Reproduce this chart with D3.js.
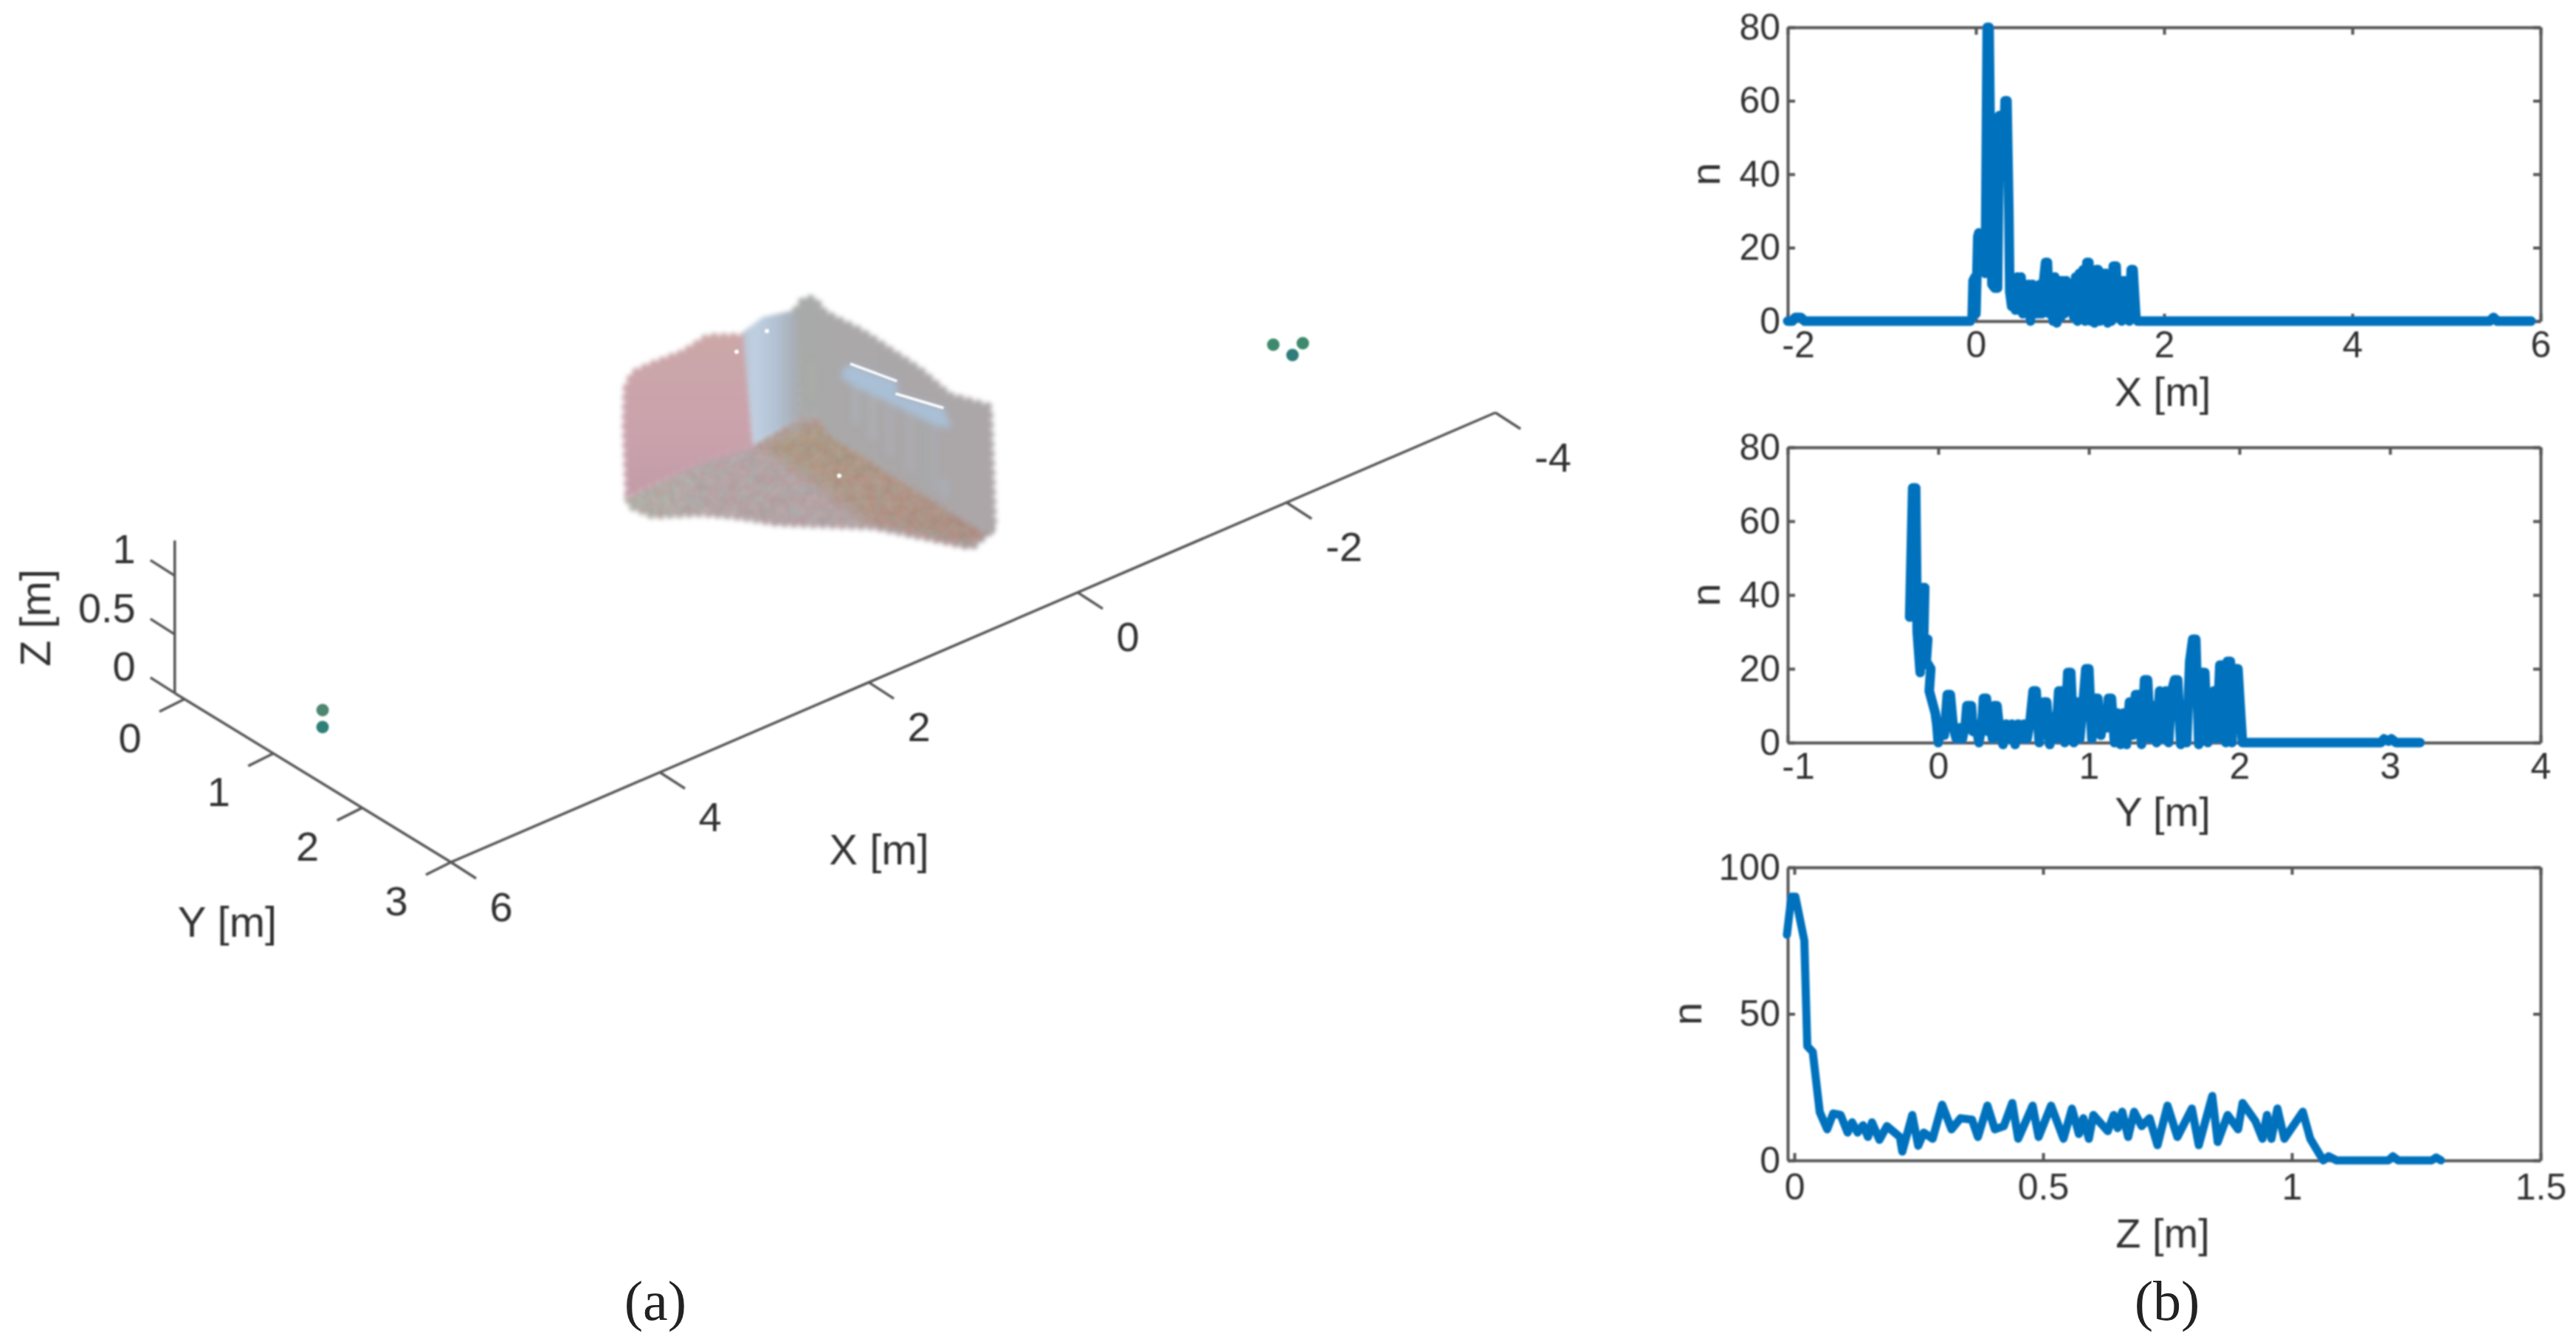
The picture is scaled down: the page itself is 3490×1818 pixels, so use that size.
<!DOCTYPE html>
<html>
<head>
<meta charset="utf-8">
<script src="https://cdnjs.cloudflare.com/ajax/libs/d3/7.8.5/d3.min.js"></script>
<style>
    html, body { margin: 0; padding: 0; background: #fff; }
    text { font-family: "Liberation Sans", Arial, sans-serif; fill: #333; }
    .caption { font-family: "Liberation Serif", serif; fill: #222; }
</style>
</head>
<body>
<svg id="chart" width="3490" height="1818"></svg>
<script>
// histogram of points along X, [metres, count]
const histX = [[-2,0],[-1.95,0],[-1.92,1],[-1.86,1],[-1.82,0],[-0.06,0],[-0.04,1],[-0.03,11],[-0.01,12],[0,2],
    [0.02,23],[0.03,24],[0.05,15],[0.08,15],[0.1,13],[0.12,80],[0.14,80],[0.17,10],[0.2,9],[0.23,9],[0.25,56],[0.27,56],
    [0.29,40],[0.31,60],[0.33,60],[0.35,30],[0.36,8],[0.38,4],[0.4,11],[0.42,3],[0.44,12],[0.46,3],[0.48,12],[0.5,2],
    [0.52,10],[0.54,4],[0.56,10],[0.58,0],[0.6,10],[0.62,2],[0.64,9],[0.66,2],[0.68,10],[0.7,2],[0.72,11],[0.74,16],
    [0.76,16],[0.78,2],[0.8,12],[0.82,0],[0.84,12],[0.86,-0.5],[0.88,11],[0.9,1],[0.92,11],[0.94,2],[0.96,11],[0.98,3],
    [1,8],[1.02,9],[1.04,1],[1.06,12],[1.08,0],[1.1,13],[1.12,1],[1.14,14],[1.16,0],[1.18,16],[1.2,16],[1.22,0],
    [1.24,12],[1.26,-0.5],[1.28,14],[1.3,14],[1.32,0],[1.34,13],[1.36,1],[1.38,13],[1.4,-0.5],[1.42,11],[1.44,0],
    [1.46,15],[1.49,15],[1.51,1],[1.53,11],[1.55,0],[1.57,11],[1.59,1],[1.61,11],[1.63,0],[1.65,14],[1.67,14],[1.7,1],
    [1.72,0],[5.46,0],[5.5,1],[5.54,0],[5.9,0]];

// histogram of points along Y
const histY = [[-0.19,34],[-0.17,69],[-0.15,69],[-0.14,30],[-0.12,19],[-0.12,40],[-0.1,42],[-0.09,42],[-0.1,22],
    [-0.07,28],[-0.08,22],[-0.05,20],[-0.06,14],[-0.02,8],[-0.01,5],[0,0],[0.02,5],[0.04,2],[0.06,13],[0.08,13],[0.1,4],
    [0.12,1],[0.14,4],[0.16,1],[0.18,5],[0.19,10],[0.22,10],[0.23,3],[0.25,5],[0.27,0],[0.29,5],[0.3,12],[0.32,12],[0.33,3],
    [0.35,5],[0.36,1],[0.37,10],[0.39,10],[0.41,2],[0.43,-0.5],[0.45,5],[0.47,1],[0.49,5],[0.51,-0.5],[0.53,5],[0.55,1],
    [0.57,5],[0.59,1],[0.61,6],[0.63,14],[0.65,14],[0.67,0],[0.69,7],[0.7,11],[0.72,11],[0.74,-0.5],[0.76,7],[0.78,1],
    [0.8,14],[0.82,14],[0.84,0],[0.86,19],[0.88,19],[0.9,0],[0.92,11],[0.94,1],[0.96,10],[0.98,20],[1,20],[1.02,1],
    [1.04,12],[1.06,12],[1.08,2],[1.1,8],[1.12,4],[1.13,12],[1.15,12],[1.17,0],[1.19,8],[1.21,-0.5],[1.23,8],[1.25,-0.5],
    [1.27,11],[1.29,2],[1.31,13],[1.33,13],[1.35,-0.5],[1.37,17],[1.39,17],[1.41,1],[1.43,10],[1.45,0],[1.47,14],[1.49,1],
    [1.51,14],[1.53,0],[1.55,14],[1.57,17],[1.59,17],[1.61,-0.5],[1.63,10],[1.65,0],[1.67,22],[1.69,28],[1.71,28],
    [1.73,-0.5],[1.75,19],[1.77,19],[1.79,0],[1.81,13],[1.83,14],[1.85,1],[1.87,21],[1.89,21],[1.91,0],[1.92,22],[1.94,22],
    [1.95,0],[1.97,20],[1.99,20],[2.02,0],[2.94,0],[2.96,1],[2.99,0.4],[3.01,1],[3.04,0],[3.2,0]];

// histogram of points along Z
const histZ = [[-0.015,77],[-0.006,90],[0.002,90],[0.02,75],[0.026,39],[0.037,37],[0.051,16.5],[0.066,10.6],[0.078,16],
    [0.093,15.5],[0.107,9.5],[0.116,13],[0.127,9.5],[0.138,12],[0.148,8],[0.156,13],[0.171,7],[0.186,11.7],[0.212,8],
    [0.217,3],[0.237,15.5],[0.249,5],[0.26,9.5],[0.278,7.4],[0.297,19],[0.316,10.6],[0.334,14.4],[0.357,13.9],[0.369,8],
    [0.388,18.7],[0.403,10.6],[0.421,11.7],[0.438,19.6],[0.45,7.4],[0.479,18.7],[0.491,8],[0.516,18.7],[0.541,7.4],
    [0.558,17.7],[0.572,9],[0.581,14.4],[0.592,7.4],[0.601,15.5],[0.63,10],[0.642,15.5],[0.65,11],[0.659,16.6],[0.671,8],
    [0.683,16.6],[0.698,11.7],[0.714,14.4],[0.73,5.2],[0.75,18.7],[0.77,8],[0.799,17.7],[0.813,5.2],[0.84,22],[0.851,6.3],
    [0.871,15.5],[0.892,10.6],[0.901,19.6],[0.927,13.3],[0.941,7.4],[0.95,15.5],[0.959,7.4],[0.971,17.7],[0.985,7.4],
    [1.022,16.6],[1.037,7.4],[1.063,0],[1.074,1.4],[1.09,0],[1.194,0],[1.203,1.4],[1.214,0],[1.281,0],[1.29,1],[1.3,0]];

const xTicksX = [-2, 0, 2, 4, 6];
const xTicksY = [-1, 0, 1, 2, 3, 4];
const xTicksZ = [0, 0.5, 1, 1.5];
const nTicks80 = [0, 20, 40, 60, 80];
const nTicks100 = [0, 50, 100];

// 3D axes ticks, metres
const ticks3dX = [6, 4, 2, 0, -2, -4];
const ticks3dY = [0, 1, 2, 3];
const ticks3dZ = [0, 0.5, 1];

// reference markers in the scene, [x, y, z, colour]
const markers = [[5.325,0.761,0,'#4f8670'],[5.481,0.944,0,'#2f8078'],[-3.375,1.234,0,'#3c8a6e'],
    [-3.555,1.355,0,'#3d8a6e'],[-3.388,1.435,0,'#2e7d7a']];

// room point cloud, outlines in metres [x, y, z]
const leftWall = [[0.652,0,1.037],[0.99,0,1.164],[1.22,0,1.12],[1.53,0,1.133],[1.707,0,1.128],[1.767,0,1.024],
    [1.775,0,0.713],[1.748,0,0.116],[1.032,0,0.137],[0.572,0,0.087]];
const blueStrip = [[0.652,0,1.08],[0.464,0,1.134],[0.139,0,1.072],[0.112,0,0.139],[0.558,0,0.08]];
const rightWall = [[0,-0.163,0.943],[0,-0.084,1.064],[0,0.027,1.125],[0,0.155,1.059],[0,0.569,1.094],[0,0.823,1.086],
    [0,1.236,1.068],[0,1.554,1.005],[0,2,1.118],[0,2.048,0.102],[0,1.953,0.048],[0,0.219,0.072],[0,0.107,0.177],[0,-0.116,0.074]];
const floorAll = [[-0.08,-0.209,0],[-0.191,-0.117,0],[-0.102,1.912,0],[0.172,2.011,0],[0.542,1.333,0],[1.048,0.847,0],
    [1.199,0.61,0],[1.372,0.4,0],[1.68,0.19,0],[1.717,-0.021,0],[1.657,-0.107,0],[0.886,-0.172,0],[0.472,-0.101,0]];
const floorTan = [[-0.135,-0.051,0],[-0.102,1.912,0],[0.172,2.011,0],[0.542,1.333,0],[0.454,0.592,0],[0.432,-0.068,0]];
const windowBlue = [[0,0.346,0.665],[0,0.44,0.762],[0,0.966,0.858],[0,0.966,0.744],[0,1.491,0.872],[0,1.587,0.748],
    [0,1.396,0.68],[0,0.95,0.642],[0,0.537,0.597],[0,0.346,0.593]];
const glintA = [[0,0.44,0.762],[0,0.966,0.858]];
const glintB = [[0,0.95,0.744],[0,1.491,0.872]];
const specks = [[0.424,0,1],[0.714,0,0.934],[0.269,0.632,0]];
// pale vertical bands on the right wall, [y, z top, z bottom, colour]
const streaks = [[0.505,0.62,0.3,'#b0bcc8'],[0.695,0.66,0.25,'#b4bcc6'],[0.887,0.68,0.2,'#b0b8c2'],[1.11,0.72,0.18,'#aeb8c0'],
    [1.268,0.7,0.12,'#9fb0a8'],[1.38,0.66,0.15,'#a8b4bc'],[1.5,0.25,0.14,'#aabdd2'],[0.02,0.55,0.3,'#a8b4a2']];

const svg = d3.select('#chart');
const fontTick = 50;
const fontLabel = 56;

// screen position of a point in the 3D view
const xToPx = d3.scaleLinear().domain([6, -4]).range([611, 2026]);
const xToPy = d3.scaleLinear().domain([6, -4]).range([1168, 559]);
const yToDx = d3.scaleLinear().domain([0, 3]).range([-361, 0]);
const yToDy = d3.scaleLinear().domain([0, 3]).range([-221, 0]);
const zToDy = d3.scaleLinear().domain([0, 1]).range([0, -159]);
const project = d => [xToPx(d[0]) + yToDx(d[1]), xToPy(d[0]) + yToDy(d[1]) + zToDy(d[2])];

const defs = svg.append('defs');
const addBlur = (id, amount) => defs.append('filter').attr('id', id)
    .attr('x', '-20%').attr('y', '-20%').attr('width', '140%').attr('height', '140%')
    .append('feGaussianBlur').attr('stdDeviation', amount);
addBlur('soft', 3);
addBlur('soft2', 0.9);
addBlur('soft3', 9);
addBlur('soft4', 5);

// grainy look of the floor points
const grain = defs.append('filter').attr('id', 'grain').attr('color-interpolation-filters', 'sRGB');
grain.append('feGaussianBlur').attr('in', 'SourceGraphic').attr('stdDeviation', 3).attr('result', 'b');
grain.append('feTurbulence').attr('type', 'fractalNoise').attr('baseFrequency', 0.07)
    .attr('numOctaves', 2).attr('seed', 4).attr('result', 'n');
grain.append('feColorMatrix').attr('in', 'n').attr('type', 'matrix')
    .attr('values', '0.7 0 0 0 0.32  0 0.7 0 0 0.27  0 0.7 0 0 0.27  0 0 0 0 0.12').attr('result', 'c');
grain.append('feComposite').attr('in', 'c').attr('in2', 'b').attr('operator', 'in').attr('result', 'cc');
const grainMerge = grain.append('feMerge');
grainMerge.append('feMergeNode').attr('in', 'b');
grainMerge.append('feMergeNode').attr('in', 'cc');

const addGradient = (id, x2, y2, stops) => {
    const g = defs.append('linearGradient').attr('id', id)
        .attr('x1', 0).attr('y1', 0).attr('x2', x2).attr('y2', y2);
    stops.forEach(s => g.append('stop').attr('offset', s[0]).attr('stop-color', s[1]));
};
addGradient('gradLeft', 0, 1, [[0, '#cba7a8'], [0.6, '#c9a2ac'], [1, '#c29ca8']]);
addGradient('gradBlue', 1, 0, [[0, '#b9c4d4'], [0.2, '#c0d0e2'], [0.55, '#b3c3d5'], [0.85, '#aab2bc'], [1, '#a8a9ab']]);
addGradient('gradRight', 1, 0, [[0, '#a8aaa9'], [0.3, '#aaa8a9'], [1, '#aca6a9']]);
addGradient('gradFloor', 1, 0, [[0, '#b2b2a8'], [0.25, '#b5a6a8'], [0.7, '#b3a3a6'], [1, '#ac9a9c']]);
addGradient('gradTan', 1, 1, [[0, '#ac9a80'], [0.6, '#b09585'], [1, '#aa8c80']]);

const polyLine = d3.line().x(d => project(d)[0]).y(d => project(d)[1]);
defs.append('clipPath').attr('id', 'floorClip').append('path').attr('d', polyLine(floorAll) + 'Z');

// facets get a round dotted stroke of their own colour, so the edge looks like a cloud of points
const addFacet = (parent, points, fill) => parent.append('path')
    .attr('d', polyLine(points) + 'Z')
    .attr('fill', fill).attr('stroke', fill)
    .attr('stroke-width', 12).attr('stroke-linecap', 'round').attr('stroke-dasharray', '0 13');

function drawScene() {
    const floor = svg.append('g').attr('filter', 'url(#grain)');
    addFacet(floor, floorAll, 'url(#gradFloor)');
    const tan = floor.append('g').attr('clip-path', 'url(#floorClip)');
    tan.append('path').attr('d', polyLine(floorTan) + 'Z')
        .attr('fill', 'url(#gradTan)').attr('filter', 'url(#soft3)');

    const cloud = svg.append('g').attr('filter', 'url(#soft)');
    addFacet(cloud, rightWall, 'url(#gradRight)');
    addFacet(cloud, leftWall, 'url(#gradLeft)');
    cloud.append('path').attr('d', polyLine(blueStrip) + 'Z').attr('fill', 'url(#gradBlue)');

    const streakG = svg.append('g').attr('filter', 'url(#soft4)');
    streakG.selectAll('line').data(streaks).enter().append('line')
        .attr('x1', d => project([0, d[0], d[1]])[0]).attr('y1', d => project([0, d[0], d[1]])[1])
        .attr('x2', d => project([0, d[0], d[2]])[0]).attr('y2', d => project([0, d[0], d[2]])[1])
        .attr('stroke', d => d[3]).attr('stroke-width', 10).attr('stroke-linecap', 'round').attr('opacity', 0.35);
    streakG.append('path').attr('d', polyLine(windowBlue) + 'Z').attr('fill', '#a9c2da').attr('opacity', 0.9);

    const top = svg.append('g').attr('filter', 'url(#soft2)');
    top.selectAll('.glint').data([glintA, glintB]).enter().append('path')
        .attr('d', polyLine).attr('fill', 'none').attr('stroke', '#fff').attr('stroke-width', 3.5);
    top.selectAll('.speck').data(specks).enter().append('circle')
        .attr('cx', d => project(d)[0]).attr('cy', d => project(d)[1]).attr('r', 3).attr('fill', '#fff');
    top.selectAll('.marker').data(markers).enter().append('circle')
        .attr('cx', d => project(d)[0]).attr('cy', d => project(d)[1]).attr('r', 8.5).attr('fill', d => d[3]);
}

function drawAxes3d() {
    const g = svg.append('g').attr('filter', 'url(#soft2)');
    const line = (a, b) => g.append('line')
        .attr('x1', a[0]).attr('y1', a[1]).attr('x2', b[0]).attr('y2', b[1])
        .attr('stroke', '#555').attr('stroke-width', 3.5);
    const label = (p, txt, size, anchor) => g.append('text')
        .attr('x', p[0]).attr('y', p[1]).attr('dy', '.35em')
        .attr('text-anchor', anchor || 'middle').attr('font-size', size).text(txt);

    line(project([6, 3, 0]), project([-4, 3, 0]));
    line(project([6, -0.11, 0]), project([6, 3, 0]));
    line(project([6, -0.11, 0]), project([6, -0.11, 1.3]));

    ticks3dX.forEach(v => {
        const p = project([v, 3, 0]);
        line(p, [p[0] + 34, p[1] + 22]);
        label([p[0] + 68 + (v < 0 ? 10 : 0), p[1] + 60], v, fontLabel);
    });
    ticks3dY.forEach(v => {
        const p = project([6, v, 0]);
        line(p, [p[0] - 34, p[1] + 17]);
        label([p[0] - 74, p[1] + 52], v, fontLabel);
    });
    ticks3dZ.forEach(v => {
        const p = project([6, -0.11, v]);
        line(p, [p[0] - 33, p[1] - 21]);
        label([p[0] - 53, p[1] - 36], v, fontLabel, 'end');
    });

    label([1191, 1151], 'X [m]', 58);
    label([308, 1249], 'Y [m]', 58);
    g.append('text').attr('transform', 'translate(48,837) rotate(-90)')
        .attr('dy', '.35em').attr('text-anchor', 'middle').attr('font-size', 58).text('Z [m]');
}

function drawHistogram(data, opt) {
    const xScale = d3.scaleLinear().domain(opt.xDomain).range([2422, 3442]);
    const yScale = d3.scaleLinear().domain(opt.yDomain).range([opt.bottom, opt.top]);
    const g = svg.append('g').attr('filter', 'url(#soft2)');

    const xAxis = d3.axisBottom(xScale).tickValues(opt.xTicks).tickFormat(d => d)
        .tickSizeInner(-10).tickSizeOuter(0).tickPadding(opt.xPad);
    const yAxis = d3.axisLeft(yScale).tickValues(opt.yTicks).tickFormat(d => d)
        .tickSizeInner(-10).tickSizeOuter(0).tickPadding(10);
    const xAxisTop = d3.axisTop(xScale).tickValues(opt.xTicks).tickFormat('')
        .tickSizeInner(-10).tickSizeOuter(0);
    const yAxisRight = d3.axisRight(yScale).tickValues(opt.yTicks).tickFormat('')
        .tickSizeInner(-10).tickSizeOuter(0);

    const place = [[xAxis, `translate(0,${opt.bottom})`], [yAxis, 'translate(2422,0)'],
        [xAxisTop, `translate(0,${opt.top})`], [yAxisRight, 'translate(3442,0)']];
    place.forEach(p => {
        const a = g.append('g').attr('transform', p[1]).call(p[0]);
        a.selectAll('.domain, line').attr('stroke', '#555').attr('stroke-width', 4);
        a.selectAll('text').attr('font-size', fontTick).attr('font-family', null).attr('fill', null);
    });
    // the first negative tick label would run into the 0 of the n axis
    g.selectAll('.tick text').filter(d => d < 0 && opt.xTicks.includes(d)).attr('dx', 14);

    const line = d3.line().x(d => xScale(d[0])).y(d => yScale(d[1]));
    g.append('path').datum(data).attr('d', line)
        .attr('fill', 'none').attr('stroke', '#0072bd').attr('stroke-width', opt.lineWidth)
        .attr('stroke-linejoin', 'round').attr('stroke-linecap', 'round');

    g.append('text').attr('transform', `translate(${opt.nX},${(opt.top + opt.bottom) / 2}) rotate(-90)`)
        .attr('dy', '.35em').attr('text-anchor', 'middle').attr('font-size', fontLabel).text('n');
    g.append('text').attr('x', 2930).attr('y', opt.bottom + opt.labelGap)
        .attr('dy', '.35em').attr('text-anchor', 'middle').attr('font-size', fontLabel).text(opt.label);
}

drawScene();
drawAxes3d();
drawHistogram(histX, { xDomain: [-2, 6], yDomain: [0, 80], xTicks: xTicksX, yTicks: nTicks80,
    top: 37, bottom: 435, lineWidth: 13, nX: 2310, label: 'X [m]', xPad: 13, labelGap: 95 });
drawHistogram(histY, { xDomain: [-1, 4], yDomain: [0, 80], xTicks: xTicksY, yTicks: nTicks80,
    top: 606, bottom: 1006, lineWidth: 13, nX: 2310, label: 'Y [m]', xPad: 13, labelGap: 93 });
drawHistogram(histZ, { xDomain: [-0.0134, 1.5], yDomain: [0, 100], xTicks: xTicksZ, yTicks: nTicks100,
    top: 1175, bottom: 1572, lineWidth: 11, nX: 2285, label: 'Z [m]', xPad: 17, labelGap: 98 });

svg.append('text').attr('class', 'caption').attr('x', 888).attr('y', 1761).attr('dy', '.35em')
    .attr('text-anchor', 'middle').attr('font-size', 76).text('(a)');
svg.append('text').attr('class', 'caption').attr('x', 2936).attr('y', 1761).attr('dy', '.35em')
    .attr('text-anchor', 'middle').attr('font-size', 76).text('(b)');
</script>
</body>
</html>
